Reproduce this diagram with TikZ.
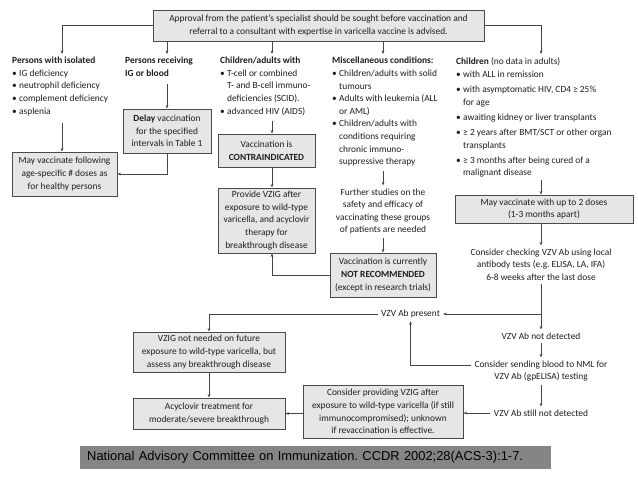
\documentclass[tikz,border=0pt]{standalone}
\usepackage{fontspec}
\setmainfont{Carlito}
\newfontfamily\citefont{Liberation Sans}
\usetikzlibrary{arrows.meta}
\definecolor{boxfill}{HTML}{E6E6E6}
\definecolor{boxline}{HTML}{4A4A4A}
\definecolor{txt}{HTML}{1E1E1E}
\definecolor{lin}{HTML}{454545}
\definecolor{band}{HTML}{858585}
\newcommand{\bul}{\makebox[7pt][l]{\textbullet}}
\newcommand{\ind}{\hspace*{7pt}}
\frenchspacing
\begin{document}
\begin{tikzpicture}[x=1pt,y=-1pt,
 every node/.style={font=\fontsize{9.4}{12.6}\selectfont, text=txt, inner sep=0pt},
 box/.style={draw=boxline, fill=boxfill, line width=1pt, align=center},
 col/.style={anchor=north west, align=left},
 txtc/.style={align=center},
 conn/.style={draw=lin, line width=0.75pt},
 arr/.style={conn, -{Stealth[length=3.5pt,width=2.8pt]}}
]
\useasboundingbox[fill=white] (0,0) rectangle (638,479);

% top box
\node[box, minimum width=331pt, minimum height=31pt] (top) at (318.5,25.5)
 {Approval from the patient's specialist should be sought before vaccination and\\referral to a consultant with expertise in varicella vaccine is advised.};

% columns
\node[col] (c1) at (12,57) {\textbf{Persons with isolated}\\\bul IG deficiency\\\bul neutrophil deficiency\\\bul complement deficiency\\\bul asplenia};
\node[col] (c2) at (125,57) {\textbf{Persons receiving}\\\textbf{IG or blood}};
\node[col] (c3) at (220,57) {\textbf{Children/adults with}\\\bul T-cell or combined\\\ind T- and B-cell immuno-\\\ind deficiencies (SCID).\\\bul advanced HIV (AIDS)};
\node[col] (c4) at (332,57) {\textbf{Miscellaneous conditions:}\\\bul Children/adults with solid\\\ind tumours\\\bul Adults with leukemia (ALL\\\ind or AML)\\\bul Children/adults with\\\ind conditions requiring\\\ind chronic immuno-\\\ind suppressive therapy};
\node[col] (c5) at (456,57) {\textbf{Children} (no data in adults)\\[1pt]\bul with ALL in remission\\[2.5pt]\bul with asymptomatic HIV, CD4 ≥ 25\%\\\ind for age\\[2.5pt]\bul awaiting kidney or liver transplants\\[2.5pt]\bul ≥ 2 years after BMT/SCT or other organ\\\ind transplants\\[2.5pt]\bul ≥ 3 months after being cured of a\\\ind malignant disease};

% boxes
\node[box, minimum width=105pt, minimum height=44pt] (mayvac1) at (64.5,174) {May vaccinate following\\age-specific \# doses as\\for healthy persons};
\node[box, minimum width=88pt, minimum height=44pt] (delay) at (167,131) {\textbf{Delay} vaccination\\for the specified\\intervals in Table 1};
\node[box, minimum width=97pt, minimum height=33pt] (contra) at (266.5,150.5) {Vaccination is\\\textbf{CONTRAINDICATED}};
\node[box, minimum width=97pt, minimum height=65pt] (provide) at (266.5,220.5) {Provide VZIG after\\exposure to wild-type\\varicella, and acyclovir\\therapy for\\breakthrough disease};
\node[txtc] (further) at (383,211.5) {Further studies on the\\safety and efficacy of\\vaccinating these groups\\of patients are needed};
\node[box, minimum width=106pt, minimum height=44pt] (notrec) at (383,275) {Vaccination is currently\\\textbf{NOT RECOMMENDED}\\(except in research trials)};
\node[box, minimum width=178pt, minimum height=28pt] (mayvac2) at (544,209) {May vaccinate with up to 2 doses\\(1-3 months apart)};
\node[txtc] (check) at (541,264.5) {Consider checking VZV Ab using local\\antibody tests (e.g. ELISA, LA, IFA)\\6-8 weeks after the last dose};
\node (present) at (410.5,314) {VZV Ab present};
\node (notdet) at (541,336) {VZV Ab not detected};
\node[txtc] (send) at (541,371) {Consider sending blood to NML for\\VZV Ab (gpELISA) testing};
\node (still) at (541,413) {VZV Ab still not detected};
\node[box, minimum width=152pt, minimum height=40pt] (vzignot) at (209,352) {VZIG not needed on future\\exposure to wild-type varicella, but\\assess any breakthrough disease};
\node[box, minimum width=152pt, minimum height=31pt] (acyc) at (209,413.5) {Acyclovir treatment for\\moderate/severe breakthrough};
\node[box, minimum width=160pt, minimum height=53pt] (consprov) at (383,411.5) {Consider providing VZIG after\\exposure to wild-type varicella (if still\\immunocompromised); unknown\\if revaccination is effective.};

% citation band
\node[fill=band, anchor=west, minimum width=471pt, minimum height=23pt, text width=457pt, inner xsep=7pt, align=left,
 font=\citefont\fontsize{12.9}{14}\selectfont, text=black] (cite) at (80,457.5)
 {National Advisory Committee on Immunization. CCDR 2002;28(ACS-3):1-7.};

% coordinates
\coordinate (a1) at (62,54);
\coordinate (a2) at (167,54);
\coordinate (a3) at (272,54);
\coordinate (a4) at (383,54);
\coordinate (a5) at (541,54);
\coordinate (c1b) at (62,123);
\coordinate (c2b) at (167,84);
\coordinate (c3b) at (272,121);
\coordinate (c4b) at (383,171);
\coordinate (c5b) at (541,180);
\coordinate (br) at (541,314);

% connectors from top
\draw[arr] (top.west) -| (a1);
\draw[arr] (top.south -| a2) -- (a2);
\draw[arr] (top.south -| a3) -- (a3);
\draw[arr] (top.south -| a4) -- (a4);
\draw[arr] (top.east) -| (a5);

% column 1 & 2
\draw[arr] (c1b) -- (mayvac1.north -| c1b);
\draw[arr] (c2b) -- (delay.north);
\draw[arr] (delay.south) |- (mayvac1.east);

% column 3
\draw[arr] (c3b) -- (contra.north -| c3b);
\draw[arr] (contra.south -| c3b) -- (provide.north -| c3b);
\draw[arr] (notrec.west) -| (provide.south -| c3b);

% column 4
\draw[arr, shorten >=3pt] (c4b) -- (further.north);
\draw[arr, shorten <=3pt] (further.south) -- (notrec.north);

% column 5
\draw[arr] (c5b) -- (mayvac2.north -| c5b);
\draw[arr, shorten >=3pt] (mayvac2.south -| c5b) -- (check.north);
\draw[arr, shorten <=3pt, shorten >=3pt] (check.south) -- (notdet.north);
\draw[arr, shorten >=3pt] (br) -- (present.east);
\draw[arr, shorten <=3pt, shorten >=3pt] (notdet.south) -- (send.north);
\draw[arr, shorten <=3pt, shorten >=3pt] ([yshift=6pt]send.west) -| (present.south);
\draw[arr, shorten <=3pt, shorten >=3pt] (send.south) -- (still.north);
\draw[arr, shorten <=4pt] (still.west) -- (consprov.east |- still);

% bottom left
\draw[arr, shorten <=3pt] (present.west) -| (vzignot.north);
\draw[arr] (vzignot.south) -- (acyc.north);
\draw[arr] (consprov.west |- acyc) -- (acyc.east);
\end{tikzpicture}
\end{document}
